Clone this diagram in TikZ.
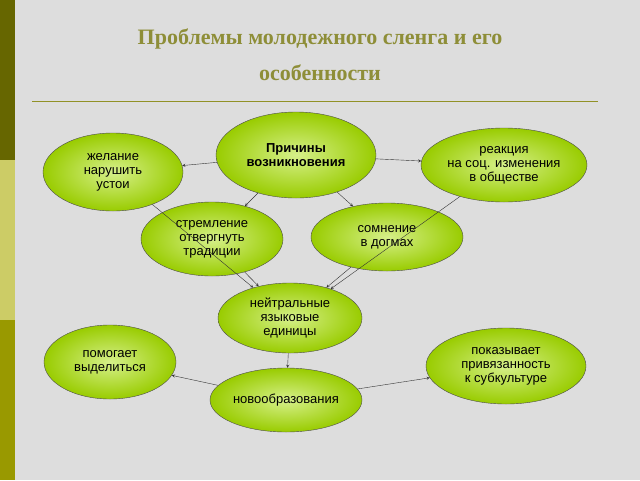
\documentclass[tikz,border=0pt]{standalone}
\usepackage{fontspec}
\setmainfont{Liberation Sans}
\newfontfamily\titlefont{Liberation Serif}
\usetikzlibrary{shapes.geometric}
\definecolor{bgray}{HTML}{DDDDDD}
\definecolor{olive}{HTML}{666600}
\definecolor{oliveB}{HTML}{999900}
\definecolor{oliveL}{HTML}{CCCC66}
\definecolor{titlecol}{HTML}{8E8E38}
\definecolor{leaf}{HTML}{99CC00}
\definecolor{leafL}{HTML}{D6F08A}

\tikzset{
  blob/.style={ellipse, draw=gray!60!black, shading=radial, inner color=leafL,
    outer color=leaf, align=center, font=\fontsize{13}{14}\selectfont, inner sep=0pt},
  link/.style={->, >=stealth, thin, black!80}
}

\begin{document}
\begin{tikzpicture}[x=1pt, y=-1pt]
    % Background and side bar
    \fill[bgray] (0,0) rectangle (640,480);
    \useasboundingbox (0,0) rectangle (640,480);
    \fill[olive] (0,0) rectangle (15,160);
    \fill[oliveL] (0,160) rectangle (15,320);
    \fill[oliveB] (0,320) rectangle (15,480);

    % Title
    \node[titlecol, font=\titlefont\bfseries\fontsize{22}{36}\selectfont, align=center] (title)
        at (320,55) {Проблемы молодежного сленга и его\\особенности};
    \draw[oliveB!70!gray, line width=1pt] (32,101) -- (598,101);

    % Nodes
    \node[blob, minimum width=160, minimum height=86, font=\bfseries\fontsize{13}{14}\selectfont] (cause) at (296,155) {Причины\\возникновения};
    \node[blob, minimum width=140, minimum height=78] (wish) at (113,172) {желание\\нарушить\\устои};
    \node[blob, minimum width=166, minimum height=74] (react) at (504,165) {реакция\\на соц. изменения\\в обществе};
    \node[blob, minimum width=142, minimum height=74] (strive) at (212,239) {стремление\\отвергнуть\\традиции};
    \node[blob, minimum width=152, minimum height=68] (doubt) at (387,237) {сомнение\\в догмах};
    \node[blob, minimum width=144, minimum height=70] (neutral) at (290,318) {нейтральные\\языковые\\единицы};
    \node[blob, minimum width=132, minimum height=74] (helps) at (110,362) {помогает\\выделиться};
    \node[blob, minimum width=160, minimum height=76] (shows) at (506,366) {показывает\\привязанность\\к субкультуре};
    \node[blob, minimum width=152, minimum height=64] (newf) at (286,400) {новообразования};

    % Connectors
    \draw[link] (cause) -- (wish);
    \draw[link] (cause) -- (react);
    \draw[link] (cause) -- (strive);
    \draw[link] (cause) -- (doubt);
    \draw[link] (wish) -- (neutral);
    \draw[link] (strive) -- (neutral);
    \draw[link] (doubt) -- (neutral);
    \draw[link] (react) -- (neutral);
    \draw[link] (neutral) -- (newf);
    \draw[link] (newf) -- (helps);
    \draw[link] (newf) -- (shows);
\end{tikzpicture}
\end{document}
